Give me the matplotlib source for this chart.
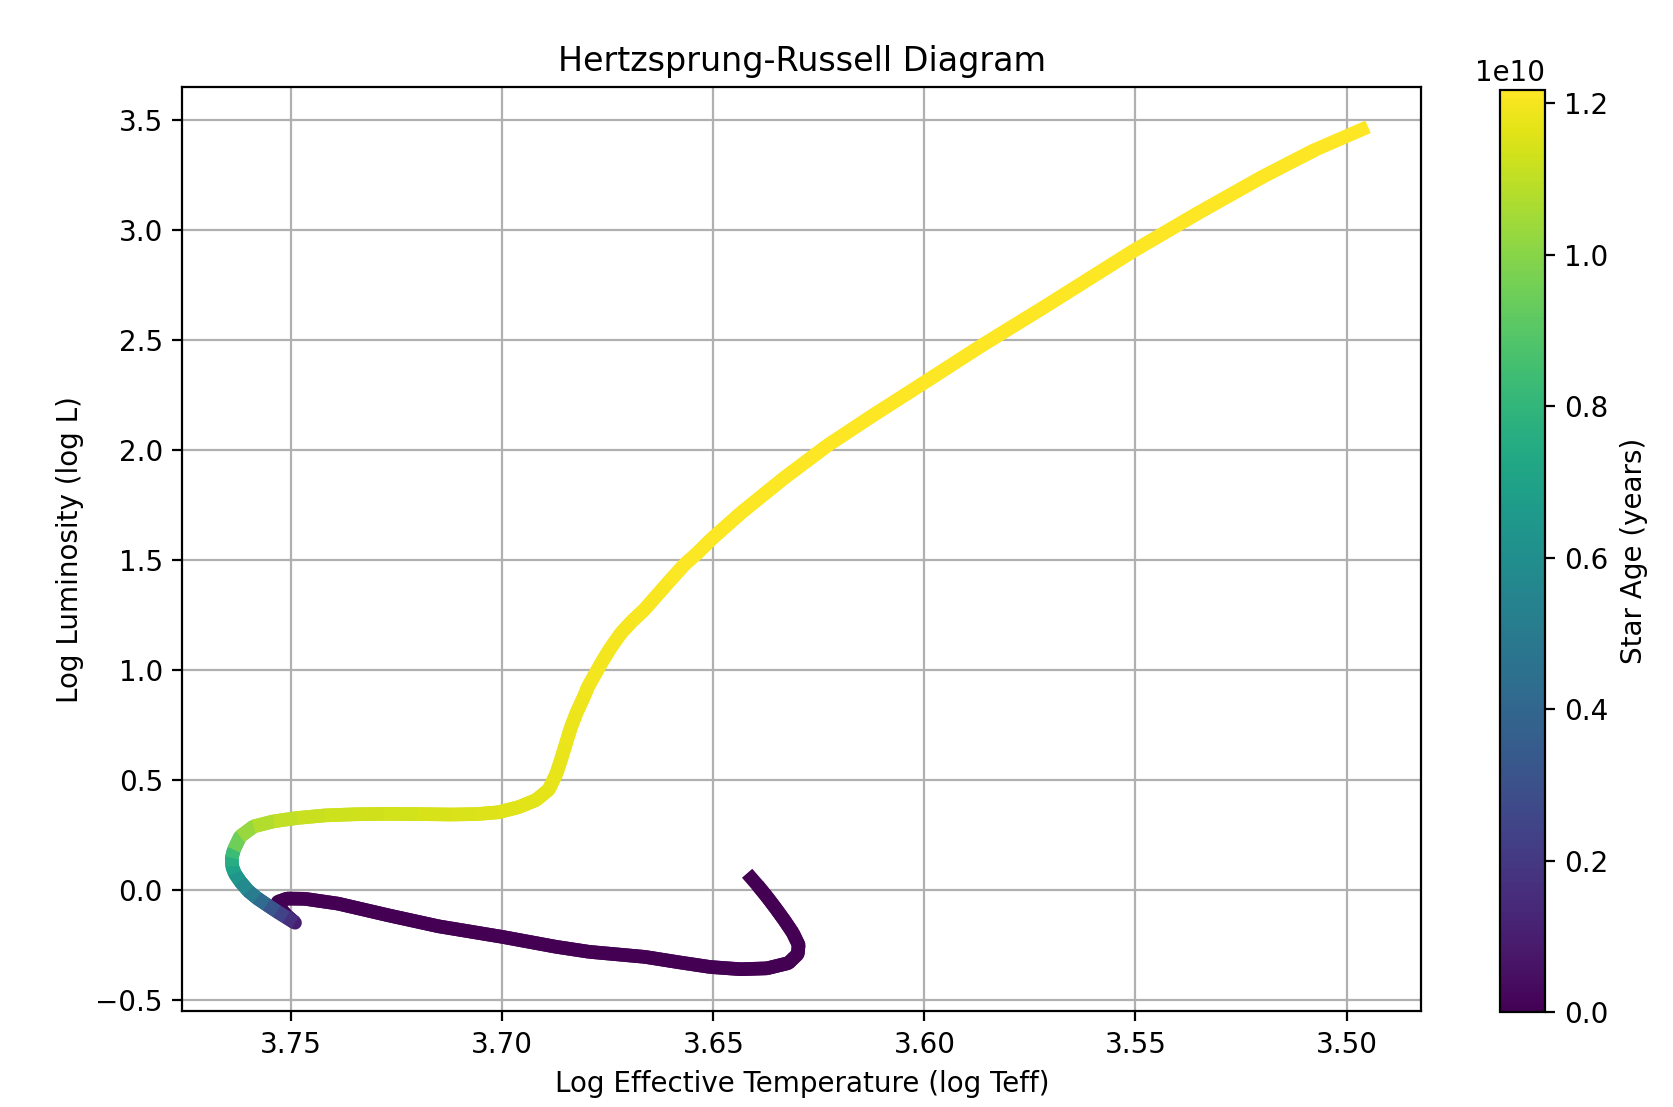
import numpy as np
import matplotlib
matplotlib.use("Agg")
import matplotlib.pyplot as plt
from matplotlib.collections import LineCollection
from matplotlib.colors import Normalize

# Evolutionary track: pre-MS, main sequence, subgiant, RGB
log_teff = [
    3.6420, 3.6395, 3.6373, 3.6352, 3.6332, 3.6312, 3.6298, 3.6300, 3.6322,
    3.6373, 3.6435, 3.6507, 3.6580, 3.6662, 3.6794, 3.6873, 3.7000, 3.7151,
    3.7270, 3.7389, 3.7468, 3.7510, 3.7532, 3.7528, 3.7512,
    3.7491, 3.7512, 3.7534, 3.7558, 3.7581, 3.7602, 3.7621, 3.7634, 3.7640,
    3.7641, 3.7636, 3.7621, 3.7589, 3.7542, 3.7487, 3.7420,
    3.7350, 3.7280, 3.7200, 3.7120, 3.7060, 3.7010, 3.6962, 3.6920, 3.6890,
    3.6872, 3.6862, 3.6850, 3.6838, 3.6824, 3.6806, 3.6797, 3.6766, 3.6745,
    3.6719, 3.6692, 3.6664, 3.6608, 3.6569,
    3.6538, 3.6506, 3.6435, 3.6332, 3.6229, 3.6125, 3.6002, 3.5867, 3.5713,
    3.5506, 3.5351, 3.5197, 3.5073, 3.4949,
]
log_l = [
    0.075, 0.020, -0.032, -0.085, -0.138, -0.195, -0.250, -0.292, -0.333,
    -0.357, -0.361, -0.351, -0.330, -0.305, -0.282, -0.259, -0.214, -0.166,
    -0.116, -0.063, -0.041, -0.040, -0.055, -0.080, -0.115,
    -0.150, -0.125, -0.0985, -0.068, -0.038, -0.005, 0.038, 0.075, 0.106,
    0.145, 0.182, 0.242, 0.288, 0.311, 0.326, 0.338,
    0.343, 0.345, 0.344, 0.342, 0.344, 0.352, 0.375, 0.408, 0.455,
    0.527, 0.585, 0.660, 0.735, 0.805, 0.880, 0.922, 1.029, 1.095,
    1.166, 1.222, 1.272, 1.394, 1.477,
    1.530, 1.591, 1.712, 1.872, 2.020, 2.152, 2.303, 2.470, 2.652,
    2.902, 3.076, 3.242, 3.364, 3.467,
]
# star age in units of 1e10 years
age_1e10 = [
    0.0000, 0.0002, 0.0004, 0.0006, 0.0008, 0.0010, 0.0012, 0.0014, 0.0016,
    0.0018, 0.0020, 0.0022, 0.0024, 0.0026, 0.0028, 0.0030, 0.0032, 0.0034,
    0.0036, 0.0038, 0.0040, 0.0042, 0.0044, 0.0046, 0.0048,
    0.10, 0.17, 0.24, 0.32, 0.42, 0.50, 0.58, 0.64, 0.70,
    0.76, 0.83, 0.95, 1.03, 1.08, 1.10, 1.115,
    1.125, 1.130, 1.137, 1.143, 1.148, 1.153, 1.158, 1.163, 1.168,
    1.172, 1.175, 1.178, 1.181, 1.184, 1.188, 1.190, 1.195, 1.198,
    1.200, 1.202, 1.204, 1.207, 1.209,
    1.210, 1.211, 1.212, 1.213, 1.214, 1.215, 1.2155, 1.216, 1.2165,
    1.217, 1.2173, 1.2176, 1.2178, 1.218,
]

x = np.array(log_teff)
y = np.array(log_l)
age = np.array(age_1e10) * 1e10

# short overlapping 3-point pieces so the joins don't leave gaps
pts = np.column_stack([x, y])
segs = np.stack([pts[:-2], pts[1:-1], pts[2:]], axis=1)
seg_age = age[1:-1]

fig = plt.figure(figsize=(1673 / 200, 1107 / 200), dpi=200)
ax = fig.add_axes([0.1090, 0.0863, 0.7405, 0.8347])
cax = fig.add_axes([0.8967, 0.0854, 0.0268, 0.8337])

lc = LineCollection(segs, cmap="viridis", norm=Normalize(0, age.max()),
                    linewidth=4.9, capstyle="butt", joinstyle="round")
lc.set_array(seg_age)
ax.add_collection(lc)

ax.set_xlim(3.7758, 3.4823)
ax.set_ylim(-0.553, 3.646)
ax.grid(True)
ax.set_xlabel("Log Effective Temperature (log Teff)")
ax.set_ylabel("Log Luminosity (log L)")
ax.set_title("Hertzsprung-Russell Diagram")

cb = fig.colorbar(lc, cax=cax)
cb.set_label("Star Age (years)")

fig.savefig("out.png", dpi=200)
